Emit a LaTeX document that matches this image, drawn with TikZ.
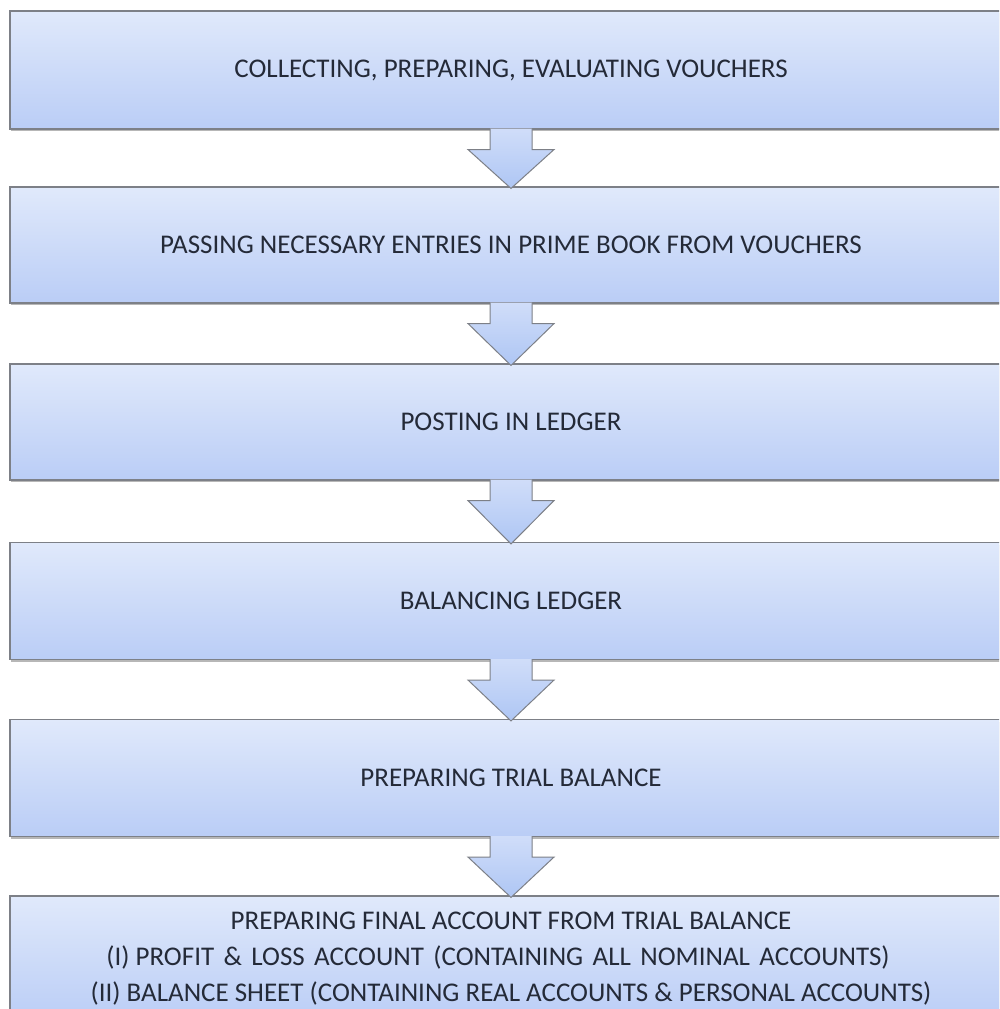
\documentclass[tikz,border=0pt]{standalone}
\usepackage{fontspec}
\setmainfont{Carlito}
\usetikzlibrary{calc,shadows}

\definecolor{boxtop}{RGB}{224,233,251}
\definecolor{boxbot}{RGB}{186,205,246}
\definecolor{arrtop}{RGB}{208,221,249}
\definecolor{arrbot}{RGB}{174,198,244}
\definecolor{edge}{RGB}{125,128,135}
\definecolor{ink}{RGB}{36,42,56}

\newcommand{\widegap}{\ \hspace{3.3pt}}

\tikzset{
  stage/.style={
    rectangle, draw=edge, line width=1.1pt,
    top color=boxtop, bottom color=boxbot,
    minimum width=1040pt, inner sep=0pt,
    drop shadow={shadow xshift=0.6pt, shadow yshift=-2.4pt, opacity=0.4, fill=black!70}
  },
  caption/.style={
    text=ink, align=center, inner sep=0pt,
    font=\fontsize{27}{36}\selectfont
  },
  blockfill/.style={top color=arrtop, bottom color=arrbot},
  blockedge/.style={draw=edge, line width=1pt, line join=miter}
}

\begin{document}
\begin{tikzpicture}[x=1pt,y=-1pt]
  \useasboundingbox (0,0) rectangle (999,1009);
  \fill[white] (0,0) rectangle (999,1009);
  \clip (0,0) rectangle (999,1009);

  % process stages, top to bottom (boxes run past the right margin)
  \node[stage, minimum height=118pt] (b1) at (530,70) {};
  \node[stage, minimum height=116pt] (b2) at (530,245) {};
  \node[stage, minimum height=116pt] (b3) at (530,422) {};
  \node[stage, minimum height=117pt] (b4) at (530,601) {};
  \node[stage, minimum height=117pt] (b5) at (530,778) {};
  \node[stage, minimum height=126pt] (b6) at (530,959) {};

  % stage captions
  \node[caption] (t1) at (511,70) {COLLECTING, PREPARING, EVALUATING VOUCHERS};
  \node[caption] (t2) at (511,245) {PASSING NECESSARY ENTRIES IN PRIME BOOK FROM VOUCHERS};
  \node[caption] (t3) at (511,422) {POSTING IN LEDGER};
  \node[caption] (t4) at (511,601) {BALANCING LEDGER};
  \node[caption] (t5) at (511,778) {PREPARING TRIAL BALANCE};
  \node[caption] (t6) at (511,959)
    {PREPARING FINAL ACCOUNT FROM TRIAL BALANCE\\
     (I) PROFIT\widegap\&\widegap LOSS\widegap ACCOUNT\widegap (CONTAINING\widegap ALL\widegap NOMINAL\widegap ACCOUNTS)\hspace*{26pt}\hbox{}\\
     (II) BALANCE SHEET (CONTAINING REAL ACCOUNTS \& PERSONAL ACCOUNTS)};

  % block arrows joining consecutive stages
  \foreach \a/\b in {b1/b2,b2/b3,b3/b4,b4/b5,b5/b6}{
    \coordinate (s) at ($(\a.south)+(-19,-1)$);
    \coordinate (t) at ($(\b.north)+(-19,2)$);
    \coordinate (h) at ($(\a.south)+(-19,20)$);
    \shade[blockfill]
      ($(s)+(-21,0)$) -- ($(h)+(-21,0)$) -- ($(h)+(-43,0)$) -- (t)
      -- ($(h)+(43,0)$) -- ($(h)+(21,0)$) -- ($(s)+(21,0)$) -- cycle;
    \draw[blockedge]
      ($(s)+(-21,0)$) -- ($(h)+(-21,0)$) -- ($(h)+(-43,0)$) -- (t)
      -- ($(h)+(43,0)$) -- ($(h)+(21,0)$) -- ($(s)+(21,0)$);
  }
\end{tikzpicture}
\end{document}
